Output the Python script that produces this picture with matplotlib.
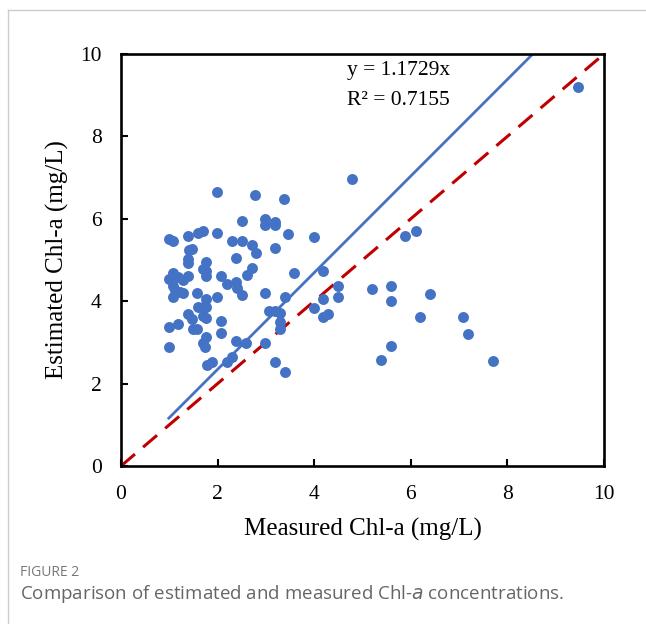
import matplotlib
matplotlib.use("Agg")
import matplotlib.pyplot as plt
import numpy as np
from matplotlib.lines import Line2D

measured = [1.98, 2.77, 3.38, 2.50, 2.98, 2.98, 3.19, 3.19, 3.46, 1.00, 1.08, 1.39,
            1.60, 1.69, 1.98, 2.29, 2.50, 2.71, 2.79, 3.19, 2.38, 1.41, 1.48, 1.38,
            1.38, 1.77, 1.69, 1.77, 2.71, 2.60, 1.77, 2.08, 1.08, 1.00, 1.19, 1.28,
            1.39, 1.08, 1.12, 2.19, 2.38, 2.41, 2.50, 2.98, 1.08, 1.22, 1.29, 1.58,
            1.77, 1.98, 3.40, 1.60, 1.70, 1.77, 1.39, 1.46, 1.50, 1.58, 1.19, 0.99,
            1.69, 1.77, 2.08, 2.08, 1.77, 1.69, 1.74, 2.39, 2.59, 2.98, 1.00, 3.07,
            3.19, 3.29, 3.29, 3.29, 1.79, 1.88, 2.19, 2.29, 3.19, 3.40, 4.79, 4.00,
            3.59, 4.19, 4.49, 4.49, 4.19, 4.00, 4.19, 4.29, 5.20, 5.59, 5.59, 5.59,
            5.38, 5.89, 6.10, 6.40, 6.19, 7.09, 7.19, 7.70, 9.46]
estimated = [6.64, 6.57, 6.49, 5.94, 6.00, 5.85, 5.93, 5.85, 5.63, 5.50, 5.46, 5.58,
             5.65, 5.70, 5.66, 5.46, 5.46, 5.36, 5.16, 5.28, 5.06, 5.24, 5.26, 5.02,
             4.92, 4.96, 4.77, 4.74, 4.80, 4.64, 4.60, 4.61, 4.68, 4.53, 4.58, 4.51,
             4.61, 4.37, 4.27, 4.41, 4.47, 4.31, 4.15, 4.21, 4.11, 4.23, 4.21, 4.19,
             4.05, 4.11, 4.11, 3.87, 3.87, 3.87, 3.69, 3.56, 3.32, 3.32, 3.45, 3.38,
             3.64, 3.60, 3.53, 3.22, 3.14, 2.99, 2.88, 3.04, 2.99, 2.98, 2.88, 3.75,
             3.75, 3.72, 3.50, 3.32, 2.45, 2.53, 2.53, 2.65, 2.53, 2.29, 6.97, 5.55,
             4.69, 4.74, 4.37, 4.11, 4.05, 3.83, 3.61, 3.69, 4.30, 4.37, 4.01, 2.92,
             2.57, 5.58, 5.71, 4.17, 3.61, 3.62, 3.20, 2.55, 9.20]
slope = 1.1729
r2 = 0.7155
ticks = [0, 2, 4, 6, 8, 10]

serif = ["Liberation Serif", "DejaVu Serif"]

fig = plt.figure(figsize=(6.46, 6.24), dpi=100)
ax = fig.add_axes([0.1873, 0.2532, 0.7477, 0.6603])

ax.scatter(measured, estimated, s=62, color="#4472C4", zorder=3, linewidths=0)
xs = np.array([min(measured), max(measured)])
ax.plot(xs, slope * xs, color="#4472C4", lw=2.0, zorder=2)
ax.plot([0, 10], [0, 10], color="#C00000", lw=2.2, dashes=(6, 3.5), zorder=2)

ax.set_xlim(0, 10)
ax.set_ylim(0, 10)
ax.set_xticks(ticks)
ax.set_yticks(ticks)
ax.set_xticklabels([str(t) for t in ticks], family=serif, fontsize=15.5)
ax.set_yticklabels([str(t) for t in ticks], family=serif, fontsize=15.5)
ax.tick_params(direction="in", length=5, width=1.5, pad=14, colors="black")
for sp in ax.spines.values():
    sp.set_linewidth(1.9)
    sp.set_color("black")

ax.set_xlabel("Measured Chl-a (mg/L)", family=serif, fontsize=18, labelpad=10)
ax.set_ylabel("Estimated Chl-a (mg/L)", family=serif, fontsize=18, labelpad=8)

ax.text(4.68, 9.61, f"y = {slope}x", family=serif, fontsize=15.5, va="center", ha="left")
ax.text(4.68, 8.88, f"R² = {r2}", family=serif, fontsize=15.5, va="center", ha="left")

# outer frame (left and top)
fig.add_artist(Line2D([8/646, 8/646], [0, 1 - 10/624], transform=fig.transFigure,
                      color="#CCCCCC", lw=1))
fig.add_artist(Line2D([8/646, 1], [1 - 10/624, 1 - 10/624], transform=fig.transFigure,
                      color="#CCCCCC", lw=1))

fig.text(20/646, 1 - 572/624, "FIGURE 2", family="Open Sans", fontsize=10,
         color="#777777", va="center")
fig.text(20/646, 1 - 594/624, "Comparison of estimated and measured Chl-$\\it{a}$ concentrations.",
         family="Open Sans", fontsize=13.5, color="#666666", va="center")

fig.savefig("out.png", dpi=100)
